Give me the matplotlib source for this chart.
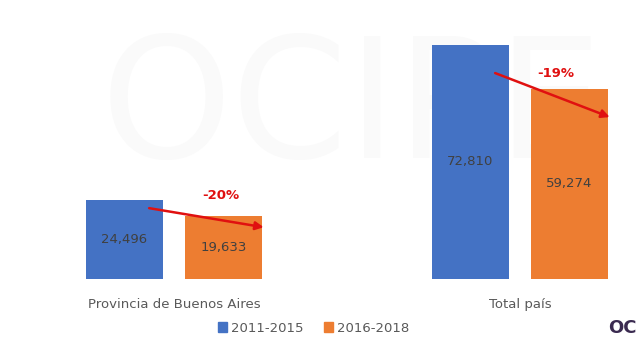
import matplotlib.pyplot as plt
from matplotlib.patches import Patch

categories = ['Provincia de Buenos Aires', 'Total país']
series_names = ['2011-2015', '2016-2018']
values_2011_2015 = [24496, 72810]
values_2016_2018 = [19633, 59274]
changes = ['-20%', '-19%']

blue = '#4472C4'
orange = '#ED7D31'
red = '#E01010'

fig = plt.figure(figsize=(6.4, 3.58), dpi=100)
ax = fig.add_axes([0, 1 - 279 / 358, 1, 279 / 358])
ax.set_xlim(-174 / 346, 1 + 120 / 346)
ax.set_ylim(0, 72810 * 279 / 234)
ax.axis('off')

# very faint watermark behind the bars
ax.text(0.55, 0.6, 'OCIPE', transform=ax.transAxes, fontsize=120,
        color='#FAFAFA', ha='center', va='center', zorder=0)

w = 0.2225
off = 0.143
start_frac = [0.90, 0.88]
end_frac = [0.82, 0.85]
label_x = [0.136, 0.104]
label_y = [25830, 63790]
for i in range(len(categories)):
    v1, v2 = values_2011_2015[i], values_2016_2018[i]
    ax.bar(i - off, v1, w, color=blue, zorder=2)
    ax.bar(i + off, v2, w, color=orange, zorder=2)
    ax.text(i - off, v1 / 2, f'{v1:,}', ha='center', va='center',
            fontsize=9.5, color='#404040', zorder=3)
    ax.text(i + off, v2 / 2, f'{v2:,}', ha='center', va='center',
            fontsize=9.5, color='#404040', zorder=3)
    # red arrow from blue bar to orange bar
    x0 = i - off + w * 0.32
    x1 = i + off + w / 2 + 0.005
    ax.annotate('', xy=(x1, v2 * end_frac[i]), xytext=(x0, v1 * start_frac[i]),
                arrowprops=dict(arrowstyle='-|>', color=red, lw=1.8,
                                mutation_scale=12, shrinkA=0, shrinkB=0),
                zorder=4)
    ax.text(i + label_x[i], label_y[i], changes[i], ha='center', va='center',
            fontsize=9.5, color=red, fontweight='bold', zorder=4)

for i, c in enumerate(categories):
    ax.text(i, -0.09 * ax.get_ylim()[1], c, ha='center', va='center',
            fontsize=9.5, color='#595959', clip_on=False)

handles = [Patch(color=blue, label=series_names[0]),
           Patch(color=orange, label=series_names[1])]
fig.legend(handles=handles, loc='center', bbox_to_anchor=(0.49, 1 - 328 / 358),
           ncol=2, frameon=False, fontsize=9.5, handlelength=0.7,
           handleheight=0.7, handletextpad=0.3, columnspacing=1.5,
           labelcolor='#595959')

# small logo mark at bottom right
fig.text(0.995, 0.085, 'OC', fontsize=13, color='#3A2A50', ha='right',
         va='center', fontweight='bold')

fig.savefig('out.png', dpi=100)
